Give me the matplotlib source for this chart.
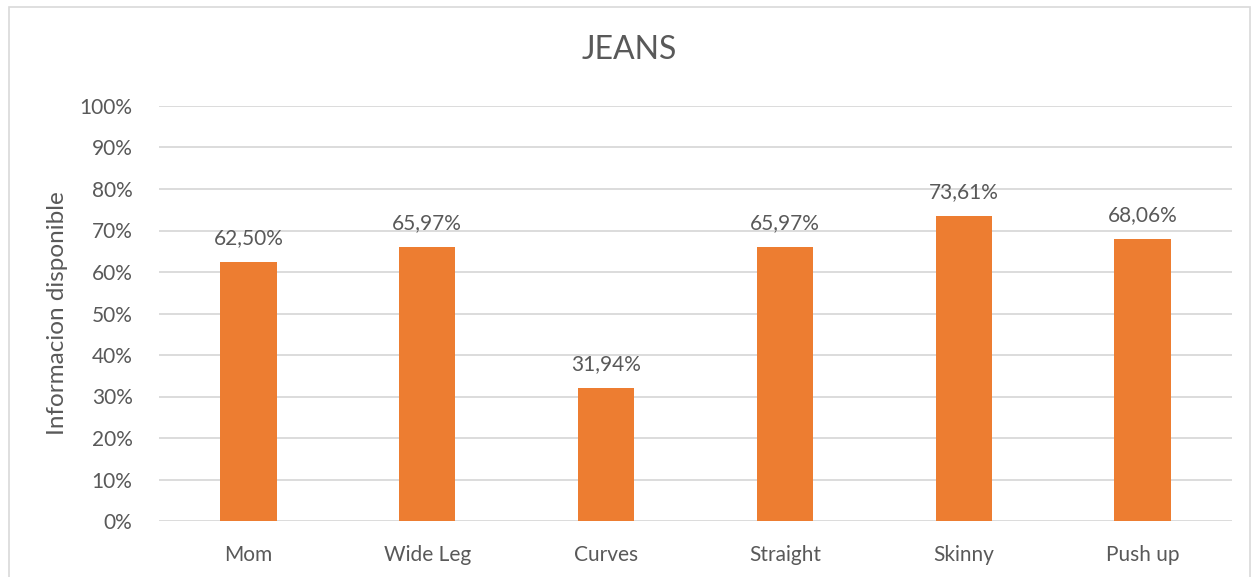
import matplotlib
matplotlib.use("Agg")
import matplotlib.pyplot as plt
from matplotlib.patches import Rectangle
from matplotlib.ticker import MultipleLocator, FuncFormatter

categories = ["Mom", "Wide Leg", "Curves", "Straight", "Skinny", "Push up"]
values = [62.50, 65.97, 31.94, 65.97, 73.61, 68.06]

title = "JEANS"
ylabel = "Informacion disponible"

text_color = "#595959"
bar_color = "#ED7D31"
grid_color = "#D9D9D9"

plt.rcParams["font.family"] = ["Lato", "DejaVu Sans"]

fig = plt.figure(figsize=(12.58, 5.77), dpi=100)
fig.patch.set_facecolor("white")
fig.patches.append(Rectangle((9 / 1258, -0.01), 1241 / 1258, 1 - 7 / 577 + 0.01,
                             transform=fig.transFigure, fill=False,
                             edgecolor="#D9D9D9", linewidth=1.2))

ax = fig.add_axes([159 / 1258, 1 - 521 / 577, (1232 - 159) / 1258, (521 - 106) / 577])
x = range(len(categories))
ax.bar(x, values, width=0.315, color=bar_color, zorder=3)

for xi, v in zip(x, values):
    ax.annotate(f"{v:.2f}%".replace(".", ","), (xi, v), xytext=(0, 10),
                textcoords="offset points", ha="center", va="bottom",
                fontsize=15, color=text_color)

ax.set_xlim(-0.5, len(categories) - 0.5)
ax.set_ylim(0, 100)
ax.yaxis.set_major_locator(MultipleLocator(10))
ax.yaxis.set_major_formatter(FuncFormatter(lambda v, _: f"{v:.0f}%"))
ax.set_xticks(list(x))
ax.set_xticklabels(categories)
ax.grid(axis="y", color=grid_color, linewidth=1.3, zorder=0)
for s in ax.spines.values():
    s.set_visible(False)
ax.tick_params(axis="both", length=0, labelsize=15, colors=text_color)
ax.tick_params(axis="x", pad=17)
ax.tick_params(axis="y", pad=19)
ax.set_ylabel(ylabel, fontsize=17.5, color=text_color, labelpad=8)

fig.text(0.5, 1 - 50 / 577, title, ha="center", va="center", fontsize=23, color=text_color)

fig.savefig("out.png", dpi=100)
